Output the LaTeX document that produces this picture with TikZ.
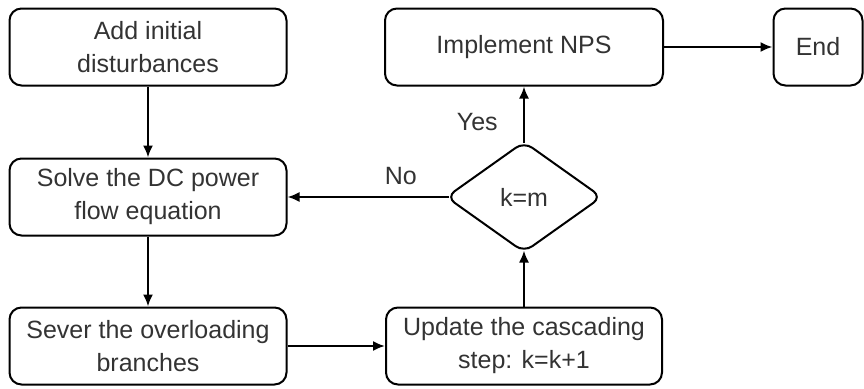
\documentclass[tikz,border=0pt]{standalone}
\usepackage{fontspec}
\setmainfont{Liberation Sans}
\usetikzlibrary{arrows.meta,shapes.geometric}

\begin{document}
\begin{tikzpicture}[x=1pt, y=1pt, >={Latex[length=12pt,width=10pt]}, line width=2pt,
    proc/.style={draw, rounded corners=12pt, minimum height=77pt, align=center,
        text=black!80, font=\fontsize{25}{33}\selectfont},
    decide/.style={draw, diamond, rounded corners=10pt, minimum width=156pt,
        minimum height=111pt, inner sep=0pt, text=black!80, font=\fontsize{25}{33}\selectfont},
    flow/.style={->, line width=2pt},
    lbl/.style={text=black!80, font=\fontsize{25}{30}\selectfont}]
    \useasboundingbox (0,0) rectangle (864,-388);

    % 左列：扰动、潮流、切除
    \node[proc, minimum width=277pt] (add) at (148,-47) {Add initial\\disturbances};
    \node[proc, minimum width=277pt] (solve) at (148,-197) {Solve the DC power\\flow equation};
    \node[proc, minimum width=277pt] (sever) at (148,-346) {Sever the overloading\\branches};

    % 右列：更新步数、判断、NPS
    \node[proc, minimum width=276pt] (update) at (524,-346) {Update the cascading\\step: k=k+1};
    \node[decide] (check) at (524,-197) {k=m};
    \node[proc, minimum width=278pt] (nps) at (524,-47) {Implement NPS};
    \node[proc, minimum width=89pt] (fin) at (818,-47) {End};

    % 连线
    \draw[flow] (add) -- (solve);
    \draw[flow] (solve) -- (sever);
    \draw[flow] (sever) -- (update);
    \draw[flow, shorten >=-3pt] (update) -- (check);
    \draw[flow, shorten <=-2pt] (check.north) -- (nps.south)
        node[lbl, pos=0.35, left=22pt] {Yes};
    \draw[flow, shorten <=-4pt] (check.west) -- (solve.east)
        node[lbl, pos=0.28, above=8pt] {No};
    \draw[flow] (nps) -- (fin);
\end{tikzpicture}
\end{document}
